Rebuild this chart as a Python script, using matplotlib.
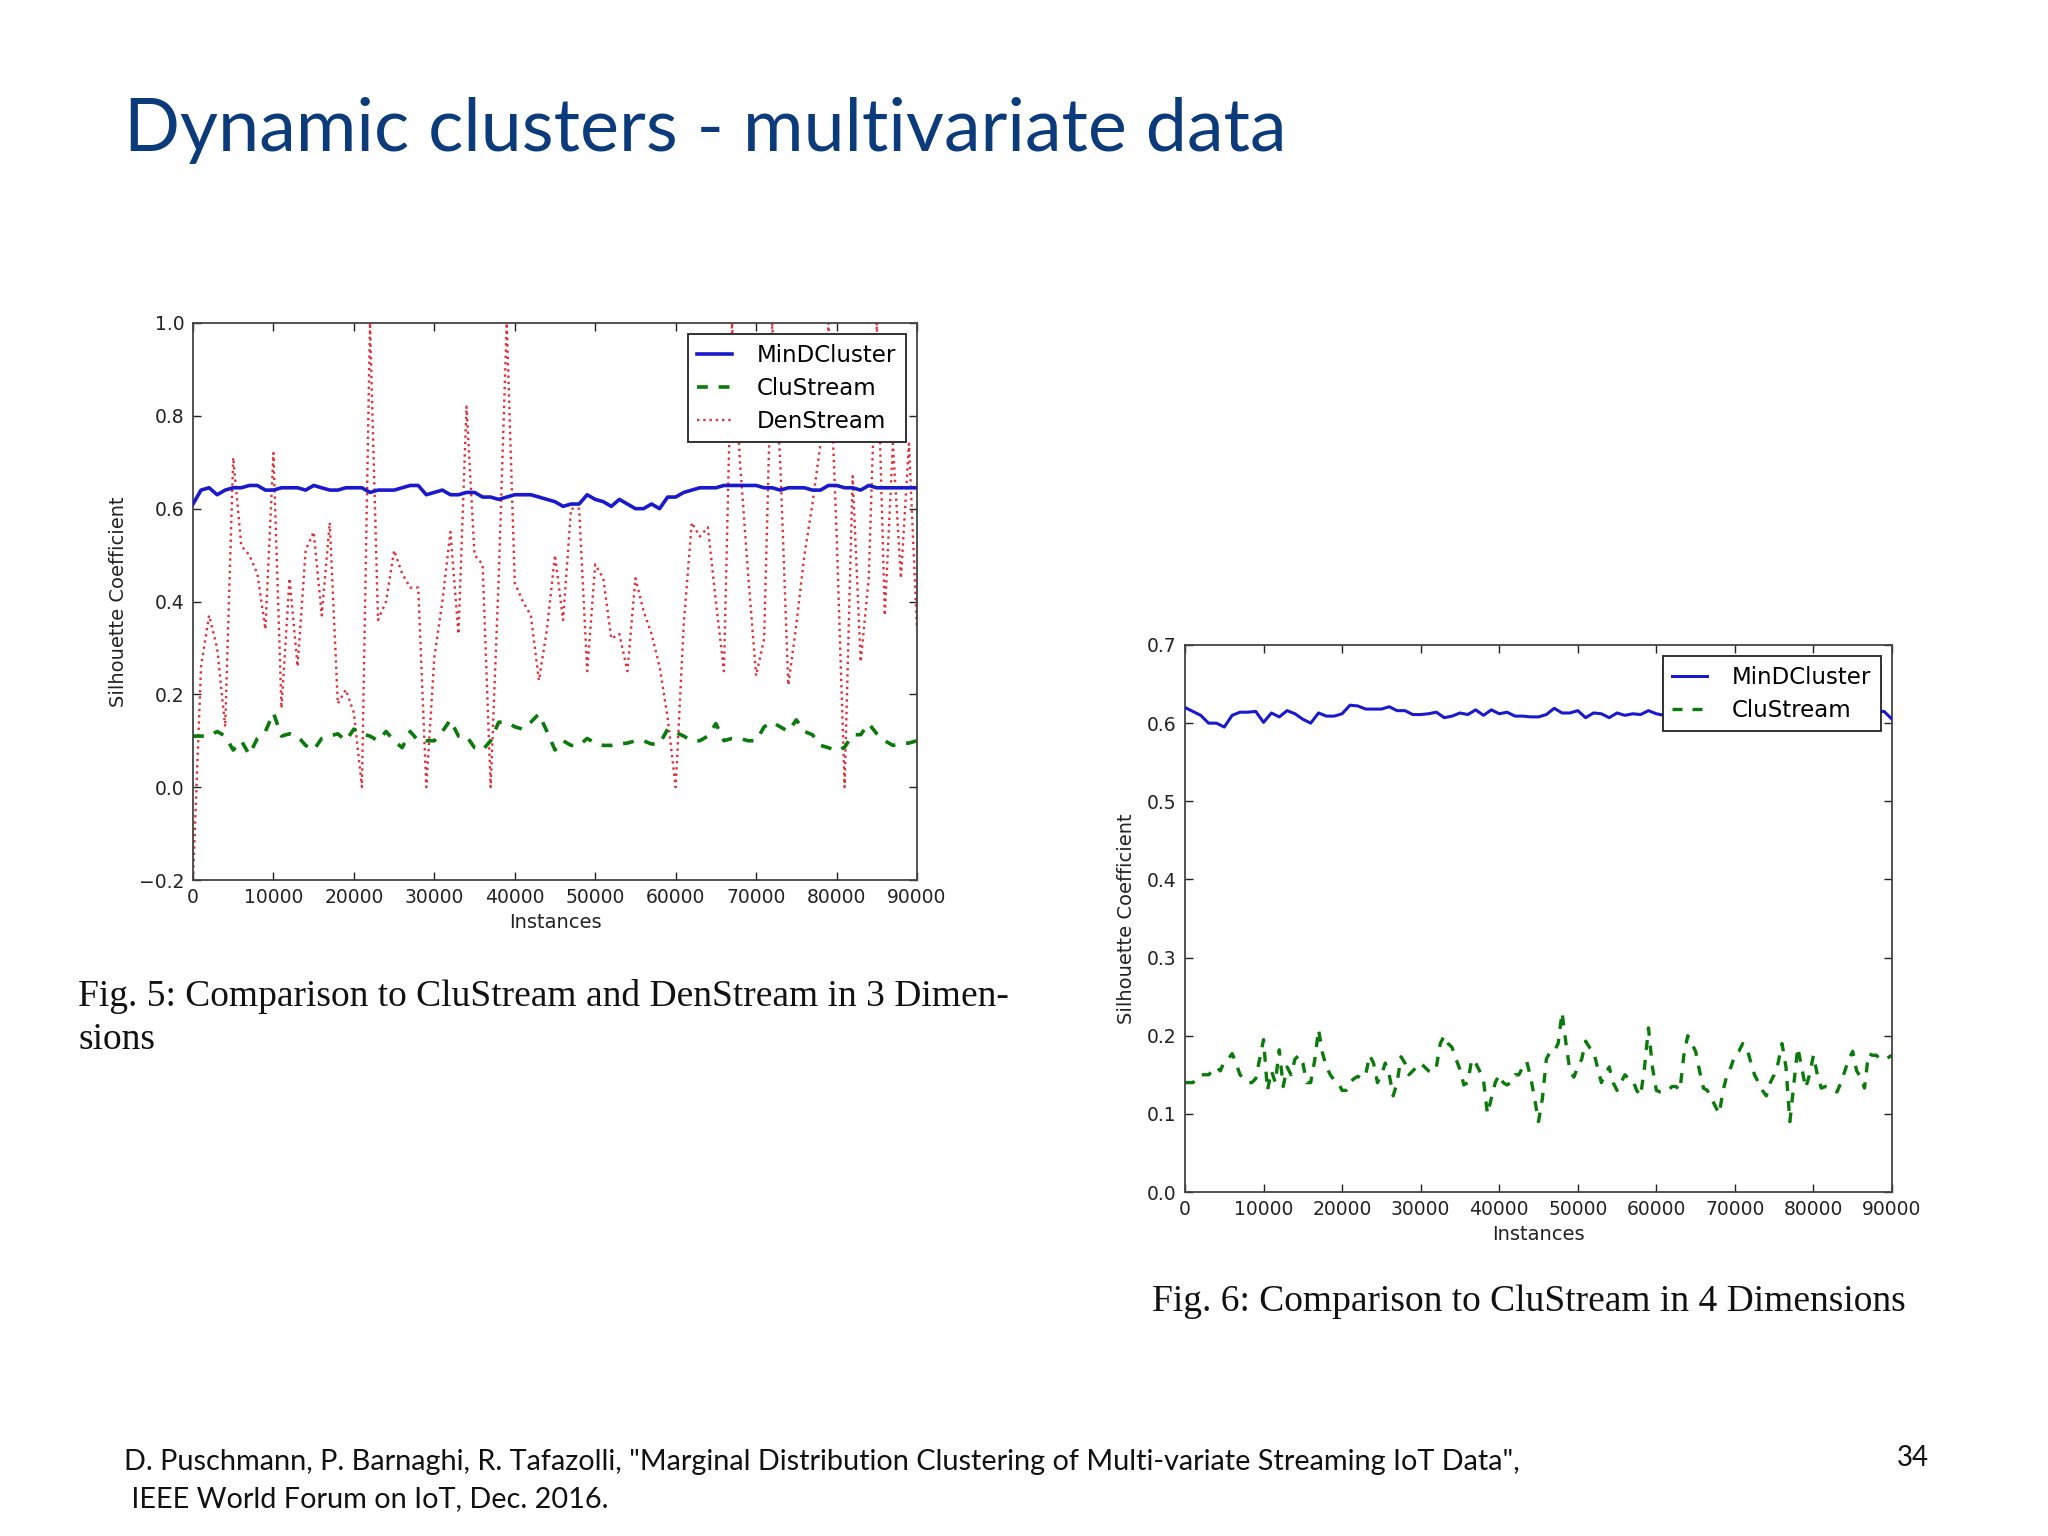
import matplotlib
matplotlib.use("Agg")
import matplotlib.pyplot as plt
import numpy as np

# ---------------- data ----------------
x_left = list(range(0, 91000, 1000))

mind_left = [0.61, 0.64, 0.645, 0.63, 0.64, 0.645, 0.645, 0.65, 0.65, 0.64,
             0.64, 0.645, 0.645, 0.645, 0.64, 0.65, 0.645, 0.64, 0.64, 0.645,
             0.645, 0.645, 0.635, 0.64, 0.64, 0.64, 0.645, 0.65, 0.65, 0.63,
             0.635, 0.64, 0.63, 0.63, 0.635, 0.635, 0.625, 0.625, 0.62, 0.625,
             0.63, 0.63, 0.63, 0.625, 0.62, 0.615, 0.605, 0.61, 0.61, 0.63,
             0.62, 0.615, 0.605, 0.62, 0.61, 0.60, 0.60, 0.61, 0.60, 0.625,
             0.625, 0.635, 0.64, 0.645, 0.645, 0.645, 0.65, 0.65, 0.65, 0.65,
             0.65, 0.645, 0.645, 0.64, 0.645, 0.645, 0.645, 0.64, 0.64, 0.65,
             0.65, 0.645, 0.645, 0.64, 0.65, 0.645, 0.645, 0.645, 0.645, 0.645,
             0.645]

clu_left = [0.11, 0.11, 0.11, 0.12, 0.11, 0.08, 0.10, 0.07, 0.105, 0.12,
            0.16, 0.11, 0.115, 0.11, 0.09, 0.08, 0.105, 0.11, 0.115, 0.10,
            0.125, 0.115, 0.11, 0.10, 0.12, 0.10, 0.085, 0.12, 0.10, 0.10,
            0.10, 0.12, 0.145, 0.11, 0.11, 0.085, 0.08, 0.10, 0.14, 0.14,
            0.13, 0.125, 0.14, 0.158, 0.12, 0.08, 0.10, 0.09, 0.09, 0.105,
            0.095, 0.09, 0.09, 0.093, 0.095, 0.10, 0.10, 0.093, 0.093, 0.125,
            0.118, 0.11, 0.10, 0.10, 0.11, 0.137, 0.10, 0.105, 0.105, 0.10,
            0.10, 0.13, 0.14, 0.13, 0.12, 0.145, 0.12, 0.113, 0.09, 0.085,
            0.078, 0.086, 0.113, 0.113, 0.137, 0.115, 0.10, 0.09, 0.094, 0.095,
            0.10]

den_left = [-0.2, 0.26, 0.37, 0.30, 0.13, 0.71, 0.52, 0.50, 0.46, 0.34,
            0.72, 0.17, 0.45, 0.26, 0.51, 0.55, 0.37, 0.57, 0.18, 0.21,
            0.16, 0.0, 1.0, 0.36, 0.40, 0.51, 0.46, 0.43, 0.43, 0.0,
            0.28, 0.40, 0.55, 0.33, 0.82, 0.50, 0.48, 0.0, 0.45, 1.0,
            0.44, 0.40, 0.37, 0.23, 0.34, 0.50, 0.36, 0.60, 0.60, 0.25,
            0.48, 0.45, 0.32, 0.33, 0.25, 0.45, 0.38, 0.33, 0.26, 0.15,
            0.0, 0.35, 0.57, 0.54, 0.56, 0.40, 0.25, 1.0, 0.70, 0.46,
            0.24, 0.32, 1.0, 0.70, 0.22, 0.35, 0.50, 0.61, 0.74, 1.0,
            0.55, 0.0, 0.67, 0.27, 0.45, 1.0, 0.37, 0.74, 0.45, 0.74,
            0.34]

x_right_mind = list(range(0, 91000, 1000))
mind_right = [0.62, 0.615, 0.61, 0.60, 0.60, 0.595, 0.61, 0.614, 0.614, 0.615,
              0.601, 0.613, 0.608, 0.616, 0.612, 0.605, 0.60, 0.613, 0.609, 0.609,
              0.612, 0.623, 0.622, 0.618, 0.618, 0.618, 0.621, 0.616, 0.616, 0.611,
              0.611, 0.612, 0.614, 0.607, 0.609, 0.613, 0.611, 0.617, 0.61, 0.617,
              0.612, 0.614, 0.609, 0.609, 0.608, 0.608, 0.611, 0.619, 0.613, 0.613,
              0.616, 0.607, 0.613, 0.612, 0.607, 0.613, 0.61, 0.612, 0.611, 0.616,
              0.612, 0.61, 0.612, 0.611, 0.613, 0.612, 0.611, 0.612, 0.613, 0.611,
              0.612, 0.612, 0.611, 0.612, 0.613, 0.612, 0.611, 0.612, 0.612, 0.611,
              0.612, 0.613, 0.612, 0.612, 0.612, 0.613, 0.614, 0.614, 0.615, 0.615,
              0.605]

x_right_clu = list(range(0, 90500, 500))
clu_right = [0.14, 0.14, 0.14, 0.145, 0.15, 0.15, 0.15, 0.155, 0.16, 0.155,
             0.167, 0.17, 0.177, 0.165, 0.15, 0.145, 0.14, 0.14, 0.145, 0.17,
             0.195, 0.13, 0.155, 0.14, 0.182, 0.135, 0.16, 0.15, 0.17, 0.175,
             0.165, 0.14, 0.14, 0.168, 0.208, 0.178, 0.16, 0.15, 0.143, 0.14,
             0.13, 0.13, 0.14, 0.145, 0.148, 0.145, 0.15, 0.175, 0.165, 0.14,
             0.15, 0.165, 0.15, 0.123, 0.14, 0.173, 0.165, 0.15, 0.155, 0.16,
             0.165, 0.16, 0.155, 0.153, 0.16, 0.19, 0.2, 0.19, 0.185, 0.17,
             0.157, 0.137, 0.14, 0.17, 0.165, 0.155, 0.143, 0.10, 0.12, 0.14,
             0.15, 0.14, 0.137, 0.14, 0.15, 0.15, 0.16, 0.167, 0.147, 0.12,
             0.09, 0.12, 0.17, 0.18, 0.18, 0.19, 0.23, 0.19, 0.155, 0.147,
             0.16, 0.17, 0.193, 0.185, 0.18, 0.16, 0.14, 0.15, 0.16, 0.14,
             0.13, 0.14, 0.15, 0.145, 0.143, 0.13, 0.123, 0.16, 0.21, 0.16,
             0.13, 0.128, 0.128, 0.13, 0.135, 0.135, 0.13, 0.175, 0.2, 0.19,
             0.18, 0.155, 0.133, 0.13, 0.12, 0.11, 0.10, 0.13, 0.15, 0.16,
             0.175, 0.18, 0.19, 0.185, 0.167, 0.15, 0.14, 0.13, 0.123, 0.14,
             0.15, 0.165, 0.19, 0.16, 0.09, 0.137, 0.185, 0.16, 0.133, 0.15,
             0.175, 0.15, 0.133, 0.135, 0.133, 0.13, 0.128, 0.14, 0.155, 0.17,
             0.18, 0.155, 0.147, 0.133, 0.177, 0.175, 0.175, 0.17, 0.17, 0.172,
             0.175]

x_ticks = [0, 10000, 20000, 30000, 40000, 50000, 60000, 70000, 80000, 90000]
y_ticks_left = [-0.2, 0.0, 0.2, 0.4, 0.6, 0.8, 1.0]
y_ticks_right = [0.0, 0.1, 0.2, 0.3, 0.4, 0.5, 0.6, 0.7]

title = "Dynamic clusters - multivariate data"
caption5 = "Fig. 5: Comparison to CluStream and DenStream in 3 Dimen-\nsions"
caption6 = "Fig. 6: Comparison to CluStream in 4 Dimensions"
footer1 = "D. Puschmann, P. Barnaghi, R. Tafazolli, \"Marginal Distribution Clustering of Multi-variate Streaming IoT Data\","
footer2 = " IEEE World Forum on IoT, Dec. 2016."
page = "34"

# ---------------- figure ----------------
plt.rcParams['font.family'] = ['DejaVu Sans']
fig = plt.figure(figsize=(20.48, 15.36), dpi=100)
fig.patch.set_facecolor('white')

TICK_FS = 13.5
LABEL_FS = 14
LEG_FS = 16.5


def style_axes(ax):
    ax.tick_params(direction='in', top=True, right=True, length=6, width=1,
                   labelsize=TICK_FS, colors='#222222', pad=6)
    for s in ax.spines.values():
        s.set_color('#444444')
        s.set_linewidth(1.3)
    ax.set_xlabel("Instances", fontsize=LABEL_FS, color='#222222', labelpad=4)
    ax.set_ylabel("Silhouette Coefficient", fontsize=LABEL_FS, color='#222222', labelpad=8)


def add_legend(ax):
    leg = ax.legend(loc='upper right', fontsize=LEG_FS, fancybox=False, framealpha=1,
                    edgecolor='#222222', handlelength=1.5, handletextpad=1.1,
                    borderaxespad=0.5, labelspacing=0.45, borderpad=0.4)
    leg.get_frame().set_linewidth(1.3)
    leg.set_zorder(5)
    return leg


# left chart
ax1 = fig.add_axes([193 / 2048, 1 - 880 / 1536, 724 / 2048, 557 / 1536])
ax1.plot(x_left, mind_left, '-', color='#1a1acc', lw=2.6, label='MinDCluster', zorder=3)
ax1.plot(x_left, clu_left, '--', color='#0a7a0a', lw=2.6, dashes=(3, 3), label='CluStream', zorder=2)
ax1.plot(x_left, den_left, ':', color='#e0303a', lw=1.7, label='DenStream', zorder=1)
ax1.set_xlim(0, 90000)
ax1.set_ylim(-0.2, 1.0)
ax1.set_xticks(x_ticks)
ax1.set_yticks(y_ticks_left)
ax1.set_yticklabels([f"{v:.1f}".replace('-', '\u2212') for v in y_ticks_left])
style_axes(ax1)
add_legend(ax1)

# right chart
ax2 = fig.add_axes([1185 / 2048, 1 - 1192 / 1536, 707 / 2048, 547 / 1536])
ax2.plot(x_right_mind, mind_right, '-', color='#1a1acc', lw=2.2, label='MinDCluster', zorder=3)
ax2.plot(x_right_clu, clu_right, '--', color='#0a7a0a', lw=2.4, dashes=(3, 3), label='CluStream', zorder=2)
ax2.set_xlim(0, 90000)
ax2.set_ylim(0.0, 0.7)
ax2.set_xticks(x_ticks)
ax2.set_yticks(y_ticks_right)
ax2.set_yticklabels([f"{v:.1f}" for v in y_ticks_right])
style_axes(ax2)
add_legend(ax2)

# slide texts
fig.text(124 / 2048, 1 - 131 / 1536, title, fontsize=53, color='#0b3b7a',
         family='Lato', va='center', ha='left')
fig.text(78 / 2048, 1 - 1018 / 1536, caption5, fontsize=27, color='#111111',
         family='Liberation Serif', va='center', ha='left', linespacing=1.3)
fig.text(1152 / 2048, 1 - 1302 / 1536, caption6, fontsize=27, color='#111111',
         family='Liberation Serif', va='center', ha='left')
fig.text(124 / 2048, 1 - 1462 / 1536, footer1, fontsize=20.8, color='#111111',
         family='Lato', va='center', ha='left')
fig.text(124 / 2048, 1 - 1499 / 1536, footer2, fontsize=20.8, color='#111111',
         family='Lato', va='center', ha='left')
fig.text(1897 / 2048, 1 - 1458 / 1536, page, fontsize=20, color='#111111',
         family='Lato', va='center', ha='left')

fig.savefig("out.png", dpi=100, facecolor='white')
